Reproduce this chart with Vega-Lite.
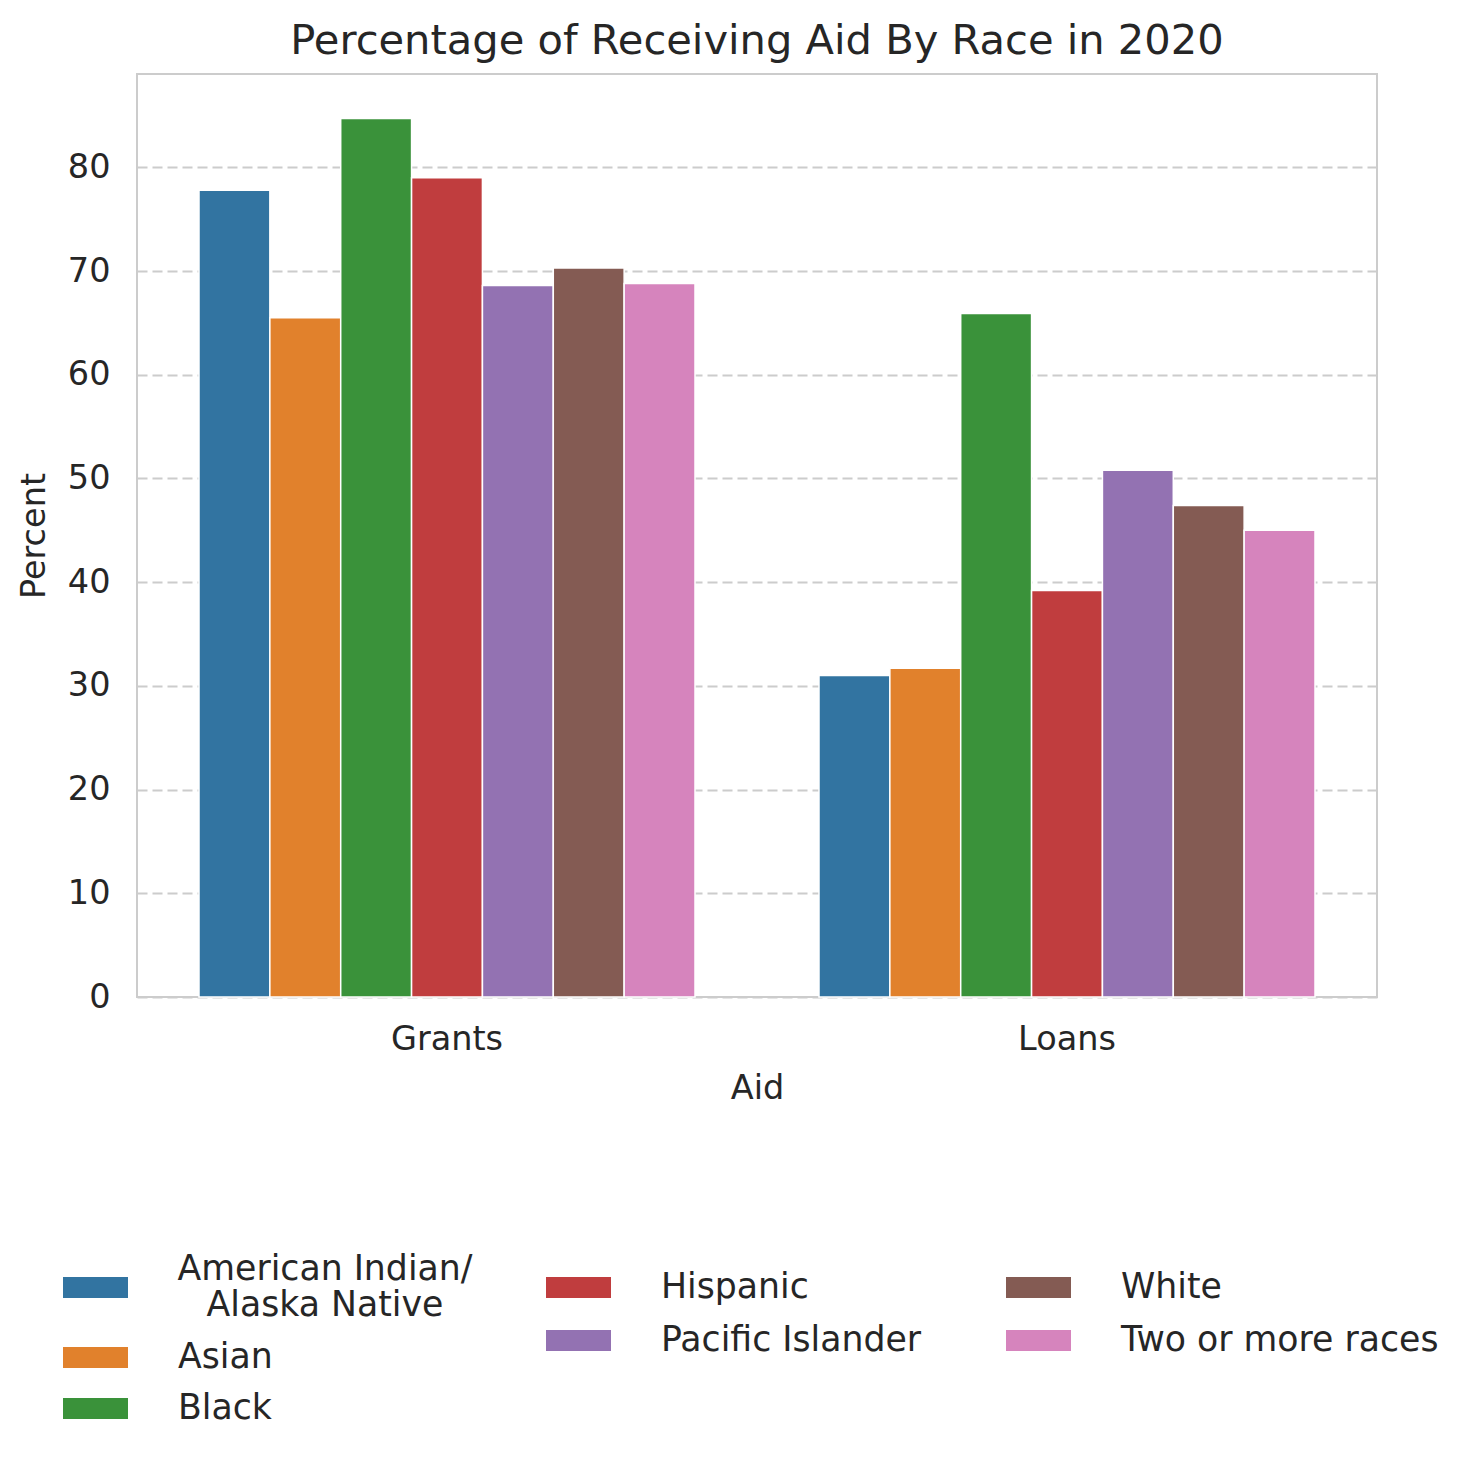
{
  "$schema": "https://vega.github.io/schema/vega-lite/v6.json",
  "autosize": {"type": "none"},
  "width": 1240,
  "height": 923,
  "padding": {"left": 137, "top": 74, "right": 100, "bottom": 465},
  "background": "white",
  "title": {
    "text": "Percentage of Receiving Aid By Race in 2020",
    "font": "DejaVu Sans",
    "fontSize": 41.6,
    "fontWeight": "normal",
    "color": "#262626",
    "anchor": "middle",
    "offset": 11
  },
  "config": {
    "view": {"stroke": "#cccccc", "strokeWidth": 2},
    "axis": {
      "labelFont": "DejaVu Sans",
      "titleFont": "DejaVu Sans",
      "labelColor": "#262626",
      "titleColor": "#262626",
      "labelFontSize": 33.5,
      "titleFontSize": 33.5,
      "titleFontWeight": "normal",
      "ticks": false,
      "tickSize": 0,
      "domain": false
    },
    "legend": {
      "orient": "none",
      "title": null,
      "padding": 0,
      "labelFont": "DejaVu Sans",
      "labelFontSize": 34.7,
      "labelColor": "#262626",
      "labelOffset": 50,
      "labelLimit": 600,
      "symbolType": "M-1,-0.32L1,-0.32L1,0.32L-1,0.32Z",
      "symbolSize": 4225,
      "symbolStrokeWidth": 0,
      "symbolOpacity": 1
    }
  },
  "data": {
    "values": [
      {"Aid": "Grants", "Race": "American Indian/Alaska Native", "Percent": 77.8},
      {"Aid": "Grants", "Race": "Asian", "Percent": 65.5},
      {"Aid": "Grants", "Race": "Black", "Percent": 84.7},
      {"Aid": "Grants", "Race": "Hispanic", "Percent": 79.0},
      {"Aid": "Grants", "Race": "Pacific Islander", "Percent": 68.6},
      {"Aid": "Grants", "Race": "White", "Percent": 70.3},
      {"Aid": "Grants", "Race": "Two or more races", "Percent": 68.8},
      {"Aid": "Loans", "Race": "American Indian/Alaska Native", "Percent": 31.0},
      {"Aid": "Loans", "Race": "Asian", "Percent": 31.7},
      {"Aid": "Loans", "Race": "Black", "Percent": 65.9},
      {"Aid": "Loans", "Race": "Hispanic", "Percent": 39.2},
      {"Aid": "Loans", "Race": "Pacific Islander", "Percent": 50.8},
      {"Aid": "Loans", "Race": "White", "Percent": 47.4},
      {"Aid": "Loans", "Race": "Two or more races", "Percent": 45.0}
    ]
  },
  "encoding": {
    "x": {
      "field": "Aid",
      "type": "nominal",
      "scale": {"paddingInner": 0.2, "paddingOuter": 0.1},
      "axis": {"labelAngle": 0, "labelPadding": 26, "titlePadding": 17, "grid": false}
    },
    "xOffset": {
      "field": "Race",
      "type": "nominal",
      "scale": {
        "domain": ["American Indian/Alaska Native", "Asian", "Black", "Hispanic", "Pacific Islander", "White", "Two or more races"],
        "paddingInner": 0,
        "paddingOuter": 0
      }
    },
    "y": {
      "field": "Percent",
      "type": "quantitative",
      "scale": {"domain": [0, 89], "nice": false, "zero": true},
      "axis": {
        "values": [0, 10, 20, 30, 40, 50, 60, 70, 80],
        "labelPadding": 27,
        "titlePadding": 16,
        "grid": true,
        "gridColor": "#cccccc",
        "gridWidth": 1.8,
        "gridDash": [10, 5]
      }
    }
  },
  "layer": [
    {
      "transform": [{"filter": {"field": "Race", "equal": "American Indian/Alaska Native"}}],
      "mark": {"type": "bar", "stroke": "white", "strokeWidth": 1.5},
      "encoding": {
        "color": {
          "field": "Race",
          "type": "nominal",
          "scale": {"domain": ["American Indian/Alaska Native"], "range": ["#3274a1"]},
          "legend": {
            "legendX": -74,
            "legendY": 1181,
            "labelExpr": "split(datum.label, '/')[0] + '/' == datum.label ? datum.label : [split(datum.label, '/')[0] + '/', split(datum.label, '/')[1]]",
            "labelAlign": "center",
            "labelOffset": 197,
            "labelBaseline": "line-bottom"
          }
        }
      }
    },
    {
      "transform": [{"filter": {"field": "Race", "oneOf": ["Asian", "Black"]}}],
      "mark": {"type": "bar", "stroke": "white", "strokeWidth": 1.5},
      "encoding": {
        "color": {
          "field": "Race",
          "type": "nominal",
          "scale": {"domain": ["Asian", "Black"], "range": ["#e1812c", "#3a923a"]},
          "legend": {"legendX": -74, "legendY": 1251, "rowPadding": 1}
        }
      }
    },
    {
      "transform": [{"filter": {"field": "Race", "oneOf": ["Hispanic", "Pacific Islander"]}}],
      "mark": {"type": "bar", "stroke": "white", "strokeWidth": 1.5},
      "encoding": {
        "color": {
          "field": "Race",
          "type": "nominal",
          "scale": {"domain": ["Hispanic", "Pacific Islander"], "range": ["#c03d3e", "#9372b2"]},
          "legend": {"legendX": 409, "legendY": 1181, "rowPadding": 3}
        }
      }
    },
    {
      "transform": [{"filter": {"field": "Race", "oneOf": ["White", "Two or more races"]}}],
      "mark": {"type": "bar", "stroke": "white", "strokeWidth": 1.5},
      "encoding": {
        "color": {
          "field": "Race",
          "type": "nominal",
          "scale": {"domain": ["White", "Two or more races"], "range": ["#845b53", "#d684bd"]},
          "legend": {"legendX": 869, "legendY": 1181, "rowPadding": 3}
        }
      }
    }
  ],
  "resolve": {"scale": {"color": "independent"}}
}
